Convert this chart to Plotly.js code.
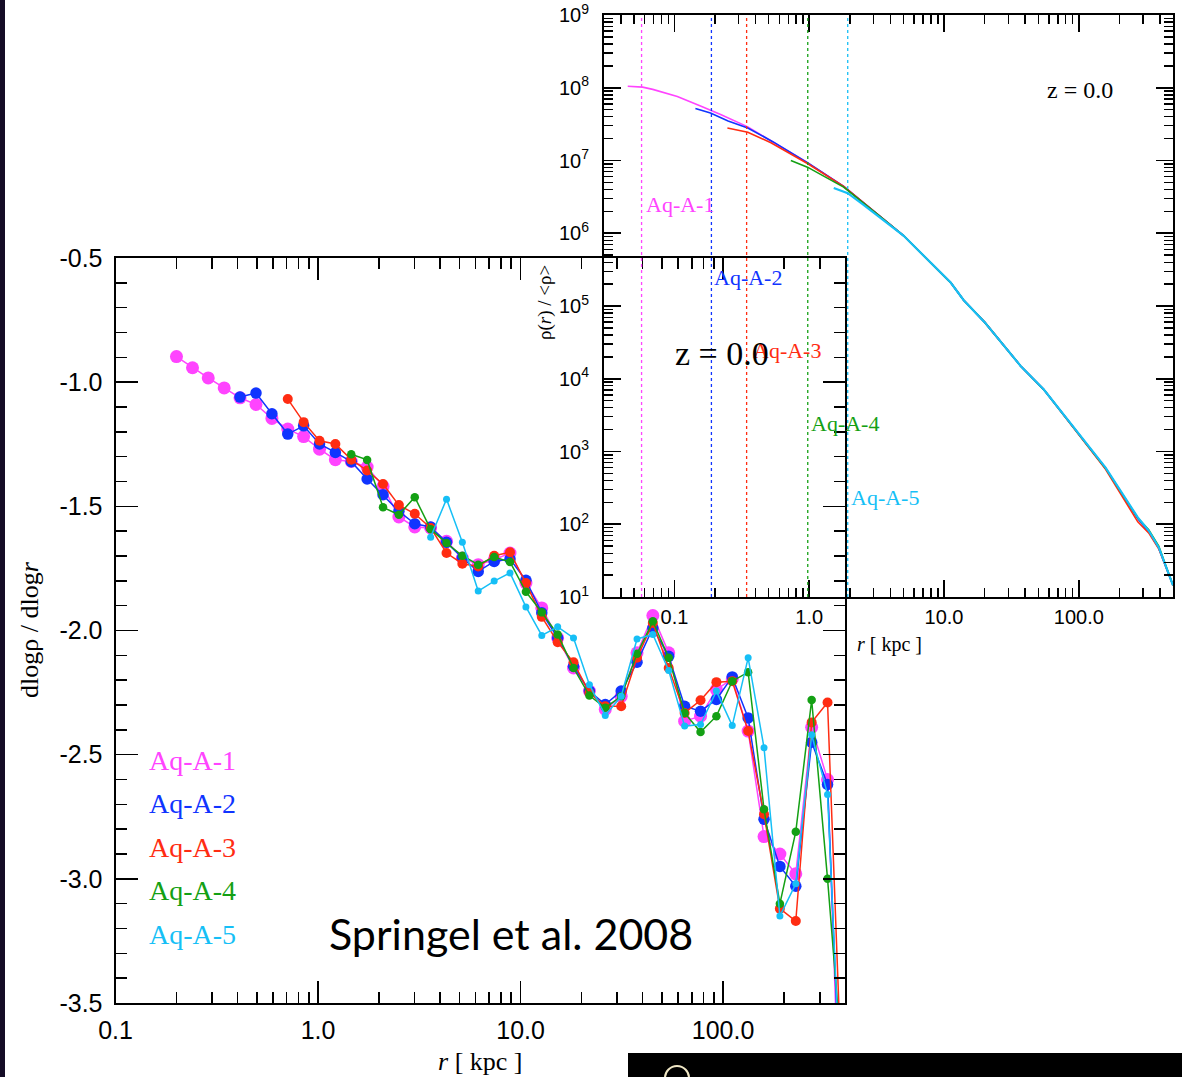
<!DOCTYPE html>
<html>
<head>
<meta charset="utf-8">
<script src="https://cdn.plot.ly/plotly-3.0.1.min.js"></script>
<style>
  html, body { margin: 0; padding: 0; background: #ffffff; }
  #chart { width: 1182px; height: 1077px; }
</style>
</head>
<body>
<div id="chart"></div>
<script>
// ---- Logarithmic slope of the density profile, dlogρ/dlogr, per resolution level ----
const radiusKpc = [0.200, 0.240, 0.287, 0.344, 0.412, 0.494, 0.592, 0.709, 0.849, 1.017,
  1.218, 1.459, 1.748, 2.094, 2.508, 3.004, 3.598, 4.31, 5.16, 6.18,
  7.41, 8.87, 10.63, 12.73, 15.25, 18.26, 21.88, 26.2, 31.4, 37.6,
  45.0, 53.9, 64.6, 77.4, 92.7, 111.0, 133.0, 159.3, 190.8, 228.6,
  273.8, 328.0, 392.9];

const slopeAqA1 = [-0.897, -0.942, -0.983, -1.023, -1.063, -1.090, -1.146, -1.189, -1.219, -1.270,
  -1.312, -1.319, -1.342, -1.420, -1.543, -1.583, -1.587, -1.641, -1.708, -1.735,
  -1.715, -1.688, -1.809, -1.909, -2.030, -2.151, -2.244, -2.318, -2.265, -2.090,
  -1.940, -2.090, -2.365, -2.345, -2.238, -2.195, -2.405, -2.830, -2.900, -2.980,
  -2.390, -2.600, -4.400];

const slopeAqA2 = [null, null, null, null, -1.060, -1.044, -1.127, -1.209, -1.176, -1.249,
  -1.283, -1.320, -1.390, -1.453, -1.520, -1.570, -1.583, -1.645, -1.708, -1.762,
  -1.722, -1.712, -1.798, -1.929, -2.030, -2.144, -2.244, -2.298, -2.244, -2.128,
  -1.990, -2.104, -2.305, -2.325, -2.278, -2.187, -2.352, -2.760, -2.950, -3.030,
  -2.450, -2.620, -4.200];

const slopeAqA3 = [null, null, null, null, null, null, null, -1.068, -1.161, -1.236,
  -1.249, -1.312, -1.356, -1.410, -1.495, -1.530, -1.587, -1.688, -1.731, -1.742,
  -1.699, -1.685, -1.809, -1.945, -2.047, -2.128, -2.251, -2.305, -2.305, -2.110,
  -1.970, -2.151, -2.332, -2.281, -2.208, -2.204, -2.405, -2.740, -3.120, -3.170,
  -2.370, -2.290, -4.000];

const slopeAqA4 = [null, null, null, null, null, null, null, null, null, null,
  null, -1.290, -1.313, -1.504, -1.534, -1.463, -1.592, -1.648, -1.699, -1.735,
  -1.704, -1.724, -1.844, -1.927, -2.016, -2.151, -2.262, -2.311, -2.265, -2.094,
  -1.963, -2.110, -2.332, -2.409, -2.345, -2.204, -2.168, -2.720, -3.100, -2.810,
  -2.280, -3.000, -3.800];

const slopeAqA5 = [null, null, null, null, null, null, null, null, null, null,
  null, null, null, null, null, null, -1.624, -1.471, -1.645, -1.841,
  -1.801, -1.768, -1.905, -2.020, -1.985, -2.030, -2.218, -2.342, -2.265, -2.034,
  -2.016, -2.161, -2.385, -2.379, -2.244, -2.383, -2.110, -2.472, -3.150, -3.020,
  -2.420, -2.660, -4.100];

// ---- Density profile ρ(r)/<ρ> (inset) ----
const outerR   = [3.4, 5.0, 11.2, 14, 20, 37, 55, 92, 158, 274, 330, 392, 500];
const outerRho = [1.66e6, 9.3e5, 2.1e5, 1.2e5, 6.0e4, 1.5e4, 7.1e3, 2.1e3, 590, 120, 79, 47, 14.5];

const profR1   = [0.045, 0.058, 0.069, 0.105, 0.156, 0.22, 0.35, 0.54, 0.97, 1.8].concat(outerR);
const profRho1 = [1.05e8, 1.02e8, 9.5e7, 7.6e7, 5.6e7, 4.3e7, 2.9e7, 1.8e7, 9.3e6, 4.4e6].concat(outerRho);
const profR2   = [0.143, 0.185, 0.25, 0.35, 0.54, 0.97, 1.8].concat(outerR);
const profRho2 = [5.2e7, 4.5e7, 3.5e7, 2.8e7, 1.8e7, 9.3e6, 4.4e6].concat(outerRho);
const profR3   = [0.247, 0.35, 0.52, 0.75, 0.97, 1.8, 3.4, 5.0, 11.2, 14, 20, 37, 55, 92, 158, 274, 330, 392, 500];
const profRho3 = [2.8e7, 2.45e7, 1.75e7, 1.2e7, 9.1e6, 4.4e6, 1.66e6, 9.3e5, 2.1e5, 1.2e5, 6.0e4, 1.5e4, 7.1e3, 2.1e3, 570, 108, 76, 46, 14.5];
const profR4   = [0.73, 0.97, 1.3, 1.8, 3.4, 5.0, 11.2, 14, 20, 37, 55, 92, 158, 274, 330, 392, 500];
const profRho4 = [1.0e7, 8.1e6, 6.0e6, 4.3e6, 1.66e6, 9.3e5, 2.1e5, 1.2e5, 6.0e4, 1.5e4, 7.1e3, 2.1e3, 590, 122, 84, 50, 14.5];
const profR5   = [1.52, 1.93, 2.5, 3.4, 5.0, 11.2, 14, 20, 37, 55, 92, 158, 274, 330, 392, 500];
const profRho5 = [4.2e6, 3.55e6, 2.5e6, 1.62e6, 9.3e5, 2.1e5, 1.2e5, 6.0e4, 1.5e4, 7.1e3, 2.1e3, 600, 124, 82, 48, 14.5];

// convergence radius of each level (dotted markers in the inset)
const convRadius = [0.057, 0.188, 0.343, 0.975, 1.93];

const runNames  = ['Aq-A-1', 'Aq-A-2', 'Aq-A-3', 'Aq-A-4', 'Aq-A-5'];
const runColors = ['#ff44ff', '#1034ff', '#ff2c12', '#14a014', '#16bff6'];

// tick labels
const mainXTicks = [0.1, 1, 10, 100];
const mainXText  = ['0.1', '1.0', '10.0', '100.0'];
const mainYTicks = [-3.5, -3.0, -2.5, -2.0, -1.5, -1.0, -0.5];
const mainYText  = ['-3.5', '-3.0', '-2.5', '-2.0', '-1.5', '-1.0', '-0.5'];
const insetXTicks = [0.1, 1, 10, 100];
const insetXText  = ['0.1', '1.0', '10.0', '100.0'];
const insetYTicks = [1e1, 1e2, 1e3, 1e4, 1e5, 1e6, 1e7, 1e8, 1e9];
const insetYText  = ['10<sup>1</sup>', '10<sup>2</sup>', '10<sup>3</sup>', '10<sup>4</sup>', '10<sup>5</sup>',
                     '10<sup>6</sup>', '10<sup>7</sup>', '10<sup>8</sup>', '10<sup>9</sup>'];

// ---- page geometry helpers (pixel -> paper fraction) ----
const W = 1182, H = 1077;
const fx = x => x / W;
const fy = y => 1 - y / H;

function logMinorTicks(lo, hi) {
  const out = [];
  for (let d = Math.floor(Math.log10(lo)); d <= Math.ceil(Math.log10(hi)); d++) {
    for (let k = 2; k <= 9; k++) {
      const v = k * Math.pow(10, d);
      if (v > lo && v < hi) out.push(v);
    }
  }
  return out;
}

const SANS = '"Liberation Sans", Arial, Helvetica, sans-serif';
const SERIF = '"Liberation Serif", "Times New Roman", serif';

const slopes = [slopeAqA1, slopeAqA2, slopeAqA3, slopeAqA4, slopeAqA5];
const markerSizes = [13, 11.5, 10, 8.5, 7];
const profR = [profR1, profR2, profR3, profR4, profR5];
const profRho = [profRho1, profRho2, profRho3, profRho4, profRho5];

const traces = [];
for (let i = 0; i < 5; i++) {
  traces.push({
    type: 'scatter', mode: 'lines+markers', name: runNames[i],
    x: radiusKpc, y: slopes[i], xaxis: 'x', yaxis: 'y',
    line: { color: runColors[i], width: 1.5 },
    marker: { color: runColors[i], size: markerSizes[i] },
    cliponaxis: true, showlegend: false, hoverinfo: 'skip'
  });
}
for (let i = 0; i < 5; i++) {
  traces.push({
    type: 'scatter', mode: 'lines', name: runNames[i] + ' profile',
    x: profR[i], y: profRho[i], xaxis: 'x2', yaxis: 'y2',
    line: { color: runColors[i], width: i === 4 ? 2.2 : 1.6 },
    showlegend: false, hoverinfo: 'skip'
  });
}

const frame = {
  showline: true, linecolor: '#000', linewidth: 2, mirror: 'allticks',
  ticks: 'inside', tickcolor: '#000', tickwidth: 1.6,
  showgrid: false, zeroline: false, fixedrange: true
};

const layout = {
  width: W, height: H,
  margin: { l: 0, r: 0, t: 0, b: 0 },
  paper_bgcolor: '#ffffff', plot_bgcolor: 'rgba(0,0,0,0)',
  showlegend: false,
  xaxis: Object.assign({}, frame, {
    domain: [fx(115.5), fx(845)], anchor: 'y', type: 'log',
    range: [-1, Math.log10(400)],
    tickmode: 'array', tickvals: mainXTicks, ticktext: mainXText, ticklen: 22,
    tickfont: { family: SANS, size: 25, color: '#000' }, ticklabelstandoff: 4,
    minor: { tickmode: 'array', tickvals: logMinorTicks(0.1, 400), ticklen: 11, tickwidth: 1.6, tickcolor: '#000', ticks: 'inside' }
  }),
  yaxis: Object.assign({}, frame, {
    domain: [fy(1003), fy(258)], anchor: 'x', range: [-3.5, -0.5],
    tickmode: 'array', tickvals: mainYTicks, ticktext: mainYText, ticklen: 22,
    tickfont: { family: SANS, size: 25, color: '#000' }, ticklabelstandoff: 6,
    minor: { dtick: 0.1, ticklen: 11, tickwidth: 1.6, tickcolor: '#000', ticks: 'inside' }
  }),
  xaxis2: Object.assign({}, frame, {
    domain: [fx(604), fx(1173)], anchor: 'y2', type: 'log',
    range: [Math.log10(0.03), Math.log10(500)],
    tickmode: 'array', tickvals: insetXTicks, ticktext: insetXText, ticklen: 17,
    tickfont: { family: SANS, size: 20, color: '#000' }, ticklabelstandoff: 1,
    minor: { tickmode: 'array', tickvals: logMinorTicks(0.03, 500), ticklen: 9, tickwidth: 1.4, tickcolor: '#000', ticks: 'inside' }
  }),
  yaxis2: Object.assign({}, frame, {
    domain: [fy(597), fy(15)], anchor: 'x2', type: 'log', range: [1, 9],
    tickmode: 'array', tickvals: insetYTicks, ticktext: insetYText, ticklen: 17,
    tickfont: { family: SANS, size: 20, color: '#000' }, ticklabelstandoff: 9,
    minor: { tickmode: 'array', tickvals: logMinorTicks(10, 1e9), ticklen: 9, tickwidth: 1.4, tickcolor: '#000', ticks: 'inside' }
  }),
  shapes: [],
  annotations: []
};

// dotted convergence radii in the inset
convRadius.forEach((r, i) => {
  layout.shapes.push({
    type: 'line', xref: 'x2', yref: 'y2 domain', x0: r, x1: r, y0: 0, y1: 1,
    line: { color: runColors[i], width: 1.3, dash: 'dot' }, layer: 'above'
  });
});

// page decorations: dark strip on the left edge, black band bottom right
layout.shapes.push({ type: 'rect', xref: 'paper', yref: 'paper', x0: 0, x1: fx(5), y0: 0, y1: 1,
  fillcolor: '#140c26', line: { width: 0 }, layer: 'below' });
layout.shapes.push({ type: 'rect', xref: 'paper', yref: 'paper', x0: fx(628), x1: 1, y0: 0, y1: fy(1053),
  fillcolor: '#000000', line: { width: 0 }, layer: 'above' });
layout.shapes.push({ type: 'circle', xref: 'paper', yref: 'paper', x0: fx(665), x1: fx(689), y0: fy(1090), y1: fy(1066),
  fillcolor: 'rgba(0,0,0,0)', line: { color: '#efe6c4', width: 2 }, layer: 'above' });

function note(text, x, y, size, color, family, opts) {
  return Object.assign({
    text: text, xref: 'paper', yref: 'paper', x: fx(x), y: fy(y),
    xanchor: 'center', yanchor: 'middle', showarrow: false, borderpad: 0,
    font: { family: family, size: size, color: color }
  }, opts || {});
}

const A = layout.annotations;
// legend of the slope panel
const legendY = [760, 803, 847, 890, 934];
runNames.forEach((n, i) => A.push(note(n, 148, legendY[i], 28, runColors[i], SERIF, { xanchor: 'left' })));
// inset run labels
const insetLabX = [645, 713, 752, 810, 850];
const insetLabY = [205, 278, 350, 423, 497];
runNames.forEach((n, i) => A.push(note(n, insetLabX[i], insetLabY[i], 22, runColors[i], SERIF, { xanchor: 'left' })));

A.push(note('Springel et al. 2008', 511, 933, 43, '#000', 'Lato, "Open Sans", sans-serif'));
A.push(note('z = 0.0', 722, 353, 34, '#000', SERIF));
A.push(note('z = 0.0', 1080, 90, 24, '#000', SERIF));
A.push(note('dlogρ / dlog<i>r</i>', 29, 630, 26, '#000', SERIF, { textangle: -90 }));
A.push(note('<i>r</i> [ kpc ]', 480, 1061, 26, '#000', SERIF));
A.push(note('ρ(<i>r</i>) / &lt;ρ&gt;', 545, 303, 19, '#000', SERIF, { textangle: -90 }));
A.push(note('<i>r</i> [ kpc ]', 889, 644, 20, '#000', SERIF));

Plotly.newPlot('chart', traces, layout, { displayModeBar: false, staticPlot: true });
</script>
</body>
</html>
